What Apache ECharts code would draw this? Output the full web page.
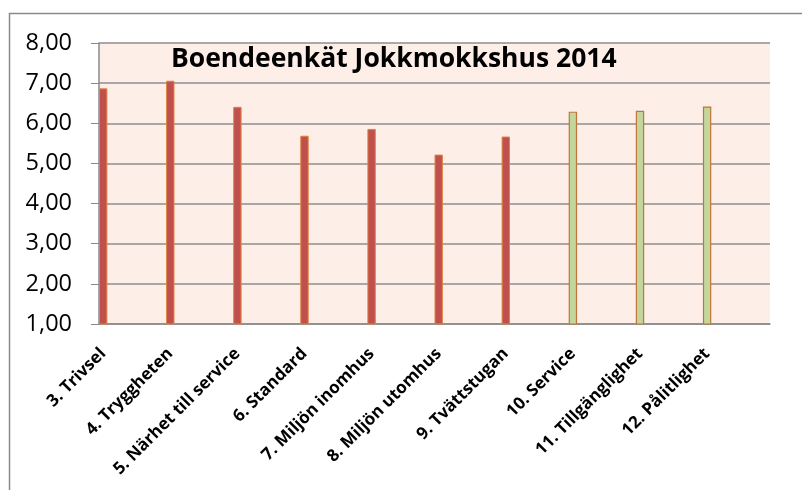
<!DOCTYPE html>
<html>
<head>
<meta charset="utf-8">
<script src="https://cdn.jsdelivr.net/npm/echarts@6/dist/echarts.min.js"></script>
<style>
  html, body { margin: 0; padding: 0; background: #fff; }
  #chart { width: 802px; height: 490px; }
</style>
</head>
<body>
<div id="chart"></div>
<script>
// frågor och medelvärden
const labels = ['3. Trivsel', '4. Tryggheten', '5. Närhet till service', '6. Standard', '7. Miljön inomhus',
  '8. Miljön utomhus', '9. Tvättstugan', '10. Service', '11. Tillgänglighet', '12. Pålitlighet']
const boendeValues = [6.87, 7.06, 6.41, 5.69, 5.86, 5.22, 5.67]
const serviceValues = [6.29, 6.31, 6.42]
const yTicks = [1, 8, 1] // min, max, steg

// Excel-diagrammet har 80 kategorier, var åttonde har ett värde
const slots = 80
const step = 8
const categories = Array(slots).fill('')
const boendeData = Array(slots).fill(null)
const serviceData = Array(slots).fill(null)
labels.forEach((name, i) => { categories[i * step] = name })
boendeValues.forEach((v, i) => { boendeData[i * step] = v })
serviceValues.forEach((v, i) => { serviceData[(i + boendeValues.length) * step] = v })

const chart = echarts.init(document.getElementById('chart'))
chart.setOption({
  animation: false,
  title: {
    text: 'Boendeenkät Jokkmokkshus 2014',
    left: 166,
    top: 41,
    textStyle: { fontFamily: 'Open Sans', fontWeight: 'bold', fontSize: 26.5, color: '#000' }
  },
  graphic: [
    {
      type: 'rect',
      shape: { x: 9.5, y: 13.5, width: 900, height: 600 },
      style: { fill: 'none', stroke: '#8a8a8a', lineWidth: 1.5 },
      z: -1
    }
  ],
  grid: {
    left: 99, right: 32, top: 43, bottom: 166,
    show: true, backgroundColor: '#fdeee8', borderWidth: 0
  },
  xAxis: {
    type: 'category',
    data: categories,
    boundaryGap: true,
    axisLine: { lineStyle: { color: '#8a8a8a', width: 1.5 } },
    axisTick: { interval: 0, length: 6, lineStyle: { color: '#8a8a8a' } },
    axisLabel: {
      interval: 0, rotate: 45, margin: 27,
      fontFamily: 'Open Sans', fontWeight: 'bold', fontSize: 17, color: '#000'
    }
  },
  yAxis: {
    type: 'value',
    min: yTicks[0], max: yTicks[1], interval: yTicks[2],
    axisLine: { show: true, lineStyle: { color: '#8a8a8a', width: 1.5 } },
    axisTick: { show: true, length: 8, lineStyle: { color: '#8a8a8a' } },
    splitLine: { lineStyle: { color: '#8e8e8e', width: 1.5 } },
    axisLabel: {
      margin: 27, fontFamily: 'Open Sans', fontSize: 23.5, color: '#000',
      formatter: v => v.toFixed(2).replace('.', ',')
    }
  },
  series: [
    {
      name: 'Boende',
      type: 'bar',
      data: boendeData,
      barWidth: '100%',
      barGap: '-100%',
      itemStyle: { color: '#c0504d', borderColor: '#e0833f', borderWidth: 1 }
    },
    {
      name: 'Service',
      type: 'bar',
      data: serviceData,
      barWidth: '100%',
      barGap: '-100%',
      itemStyle: { color: '#c3d69b', borderColor: '#c0763a', borderWidth: 1.2 }
    }
  ]
})
</script>
</body>
</html>
